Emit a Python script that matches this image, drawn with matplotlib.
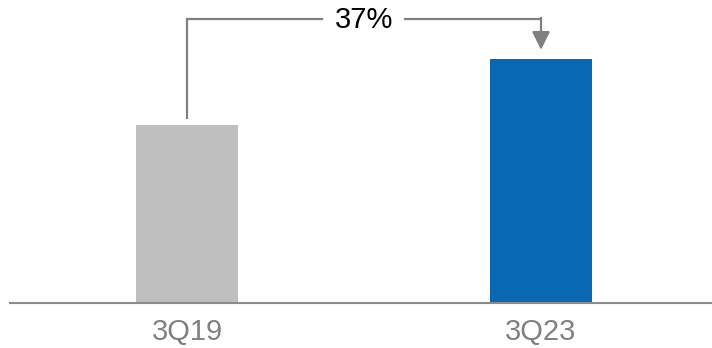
import matplotlib
matplotlib.use("Agg")
from matplotlib import pyplot as plt

plt.rcParams['font.family'] = ['Liberation Sans', 'DejaVu Sans']

# data
quarters = ['3Q19', '3Q23']
values = [100, 137]
bar_colors = ['#BFBFBF', '#0868B4']
growth_label = '37%'

fig = plt.figure(figsize=(7.12, 3.48), dpi=100)
ax = fig.add_axes([10/712, 45/348, 702/712, 303/348])

xs = range(len(quarters))
ax.bar(xs, values, width=0.288, color=bar_colors)

ax.set_xlim(-0.5, 1.483)
ax.set_ylim(0, 170)

# bracket line with arrow
line_c = '#808080'
top = 159.5
ax.plot([0, 0, 0.382], [values[0] + 4, top, top], color=line_c, lw=1.6, solid_joinstyle='miter')
ax.plot([0.615, 1], [top, top], color=line_c, lw=1.6)
ax.annotate('', xy=(1, values[1] + 5), xytext=(1, top + 0.5),
            arrowprops=dict(arrowstyle='-|>,head_length=0.55,head_width=0.27',
                            color=line_c, lw=1.6, shrinkA=0, shrinkB=0,
                            mutation_scale=20))
ax.text(0.5, top - 1, growth_label, ha='center', va='center', fontsize=21, color='black')

for s in ['top', 'left', 'right']:
    ax.spines[s].set_visible(False)
ax.spines['bottom'].set_color('#8C8C8C')
ax.spines['bottom'].set_linewidth(1.5)
ax.set_yticks([])
ax.set_xticks(list(xs))
ax.set_xticklabels(quarters, fontsize=21, color='#808080')
ax.tick_params(axis='x', length=0, pad=11)

fig.savefig('out.png', dpi=100)
